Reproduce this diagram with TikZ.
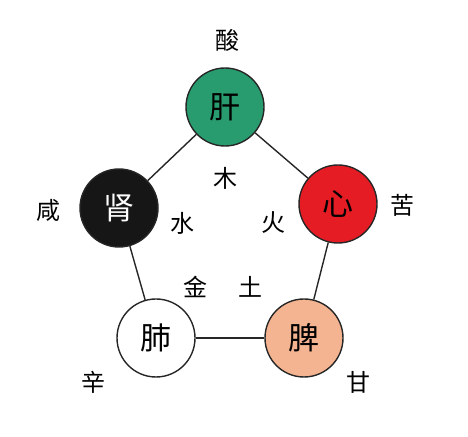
\documentclass[tikz,border=0pt]{standalone}
\usepackage{fontspec}
\newfontfamily\cjk{Noto Sans CJK SC}
\definecolor{ganc}{RGB}{40,156,110}
\definecolor{xinc}{RGB}{230,28,36}
\definecolor{pic}{RGB}{245,180,145}
\definecolor{shenc}{RGB}{22,22,22}
\begin{document}
\begin{tikzpicture}[x=1pt,y=1pt,
  organ/.style={circle,draw=black!85,line width=1.4pt,minimum size=78pt,inner sep=0pt,font=\cjk\fontsize{31}{31}\selectfont},
  lbl/.style={inner sep=0pt,font=\cjk\fontsize{24}{24}\selectfont},
  link/.style={draw=black!85,line width=1.4pt}]
\useasboundingbox (0,0) rectangle (468,436);
\node[organ,fill=ganc] (gan) at (225,329) {肝};
\node[organ,fill=xinc] (xin) at (338,232) {心};
\node[organ,fill=pic] (pi) at (304,98) {脾};
\node[organ,fill=white] (fei) at (156,98) {肺};
\node[organ,fill=shenc,text=white] (shen) at (119,228) {肾};
\draw[link] (gan) -- (xin);
\draw[link] (xin) -- (pi);
\draw[link] (pi) -- (fei);
\draw[link] (fei) -- (shen);
\draw[link] (shen) -- (gan);
\node[lbl] (suan) at (227,396) {酸};
\node[lbl] (ku) at (402,231) {苦};
\node[lbl] (gan2) at (358,54) {甘};
\node[lbl] (xinw) at (93,54) {辛};
\node[lbl] (xian) at (48,226) {咸};
\node[lbl] (mu) at (225,258) {木};
\node[lbl] (huo) at (273,213) {火};
\node[lbl] (tu) at (250,149) {土};
\node[lbl] (jin) at (195,149) {金};
\node[lbl] (shui) at (182,213) {水};
\end{tikzpicture}
\end{document}
